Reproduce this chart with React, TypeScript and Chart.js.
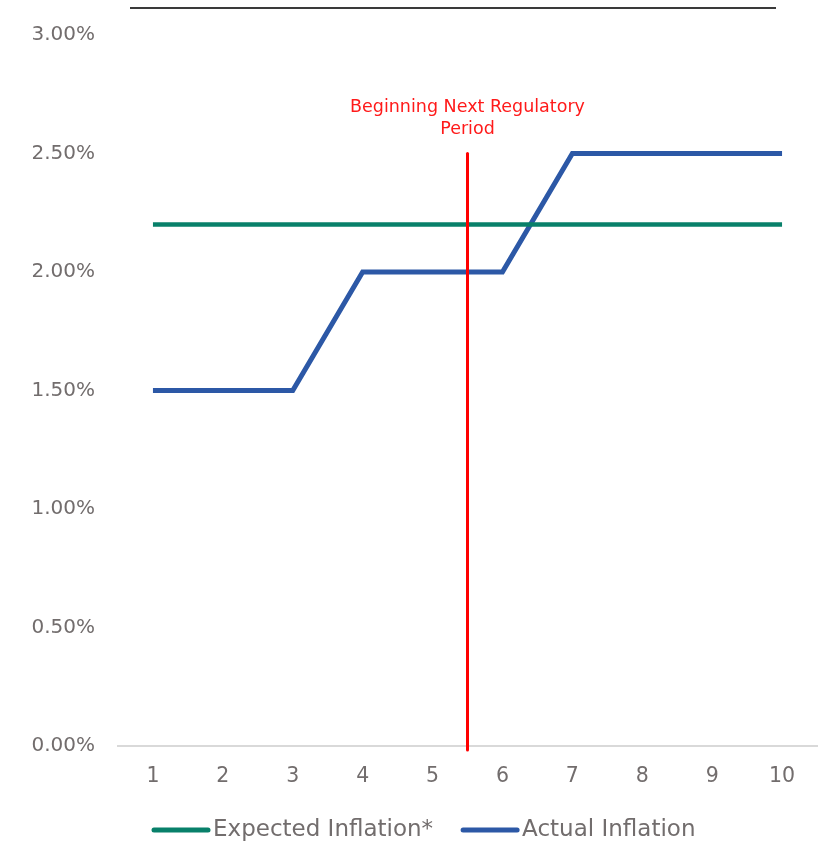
import React, { useEffect, useRef } from "react";
import { Chart, registerables } from "chart.js";

Chart.register(...registerables);

const categories = ["1", "2", "3", "4", "5", "6", "7", "8", "9", "10"];
const expectedInflation = [2.2, 2.2, 2.2, 2.2, 2.2, 2.2, 2.2, 2.2, 2.2, 2.2];
const actualInflation = [1.5, 1.5, 1.5, 2.0, 2.0, 2.0, 2.5, 2.5, 2.5, 2.5];
const seriesNames = ["Expected Inflation*", "Actual Inflation"];
const markerPosition = 4.5; // index between category 5 and 6
const markerTop = 2.5;
const markerLabel = ["Beginning Next Regulatory", "Period"];
const yMin = 0;
const yMax = 3;
const yStep = 0.5;

const GRAY = "#726d6d";
const FONT = "'DejaVu Sans', sans-serif";

const overlayPlugin = {
  id: "overlay",
  beforeDraw(chart: any) {
    const ctx = chart.ctx;
    ctx.save();
    ctx.fillStyle = "#ffffff";
    ctx.fillRect(0, 0, chart.width, chart.height);
    ctx.strokeStyle = "#3a3a3a";
    ctx.lineWidth = 2;
    ctx.beginPath();
    ctx.moveTo(130, 8);
    ctx.lineTo(776, 8);
    ctx.stroke();
    ctx.restore();
  },
  afterDatasetsDraw(chart: any) {
    const ctx = chart.ctx;
    const x = chart.scales.x.getPixelForValue(markerPosition);
    const yTop = chart.scales.y.getPixelForValue(markerTop);
    const yBot = chart.scales.y.getPixelForValue(yMin) + 4;
    ctx.save();
    ctx.strokeStyle = "#ff0000";
    ctx.lineWidth = 3;
    ctx.lineCap = "round";
    ctx.beginPath();
    ctx.moveTo(x, yTop);
    ctx.lineTo(x, yBot);
    ctx.stroke();
    ctx.fillStyle = "#ff1a1a";
    ctx.font = `17.5px ${FONT}`;
    ctx.textAlign = "center";
    ctx.textBaseline = "middle";
    ctx.fillText(markerLabel[0], x, 107);
    ctx.fillText(markerLabel[1], x, 129);
    ctx.restore();
  },
  afterDraw(chart: any) {
    const ctx = chart.ctx;
    ctx.save();
    ctx.font = `23px ${FONT}`;
    ctx.textBaseline = "middle";
    let x = 154;
    const y = 830;
    chart.data.datasets.forEach((ds: any) => {
      ctx.strokeStyle = ds.borderColor;
      ctx.lineWidth = 5;
      ctx.lineCap = "round";
      ctx.beginPath();
      ctx.moveTo(x, y);
      ctx.lineTo(x + 54, y);
      ctx.stroke();
      x += 59;
      ctx.fillStyle = GRAY;
      ctx.textAlign = "left";
      ctx.fillText(ds.label, x, y);
      x += ctx.measureText(ds.label).width + 30;
    });
    ctx.restore();
  },
};

export default function App() {
  const ref = useRef<HTMLCanvasElement>(null);
  useEffect(() => {
    if (!ref.current) return;
    const chart = new Chart(ref.current, {
      type: "line",
      data: {
        labels: categories,
        datasets: [
          {
            label: seriesNames[0],
            data: expectedInflation,
            borderColor: "#08806a",
            borderWidth: 4.5,
            pointRadius: 0,
            tension: 0,
          },
          {
            label: seriesNames[1],
            data: actualInflation,
            borderColor: "#2c58a6",
            borderWidth: 5,
            pointRadius: 0,
            tension: 0,
          },
        ],
      },
      options: {
        animation: false,
        responsive: false,
        layout: { padding: { top: 27, right: 1, left: 0, bottom: 0 } },
        plugins: { legend: { display: false }, tooltip: { enabled: false } },
        scales: {
          x: {
            offset: true,
            grid: { display: false, drawTicks: false },
            border: { display: true, color: "#d9d9d9", width: 2 },
            ticks: { color: GRAY, font: { family: FONT, size: 20.5 }, padding: 18 },
            afterFit: (s: any) => {
              s.height = 97;
            },
          },
          y: {
            min: yMin,
            max: yMax,
            grid: { display: false, drawTicks: false },
            border: { display: false },
            ticks: {
              stepSize: yStep,
              color: GRAY,
              font: { family: FONT, size: 20 },
              padding: 23,
              callback: (v: any) => Number(v).toFixed(2) + "%",
            },
            afterFit: (s: any) => {
              s.width = 118;
            },
          },
        },
      },
      plugins: [overlayPlugin],
    });
    return () => chart.destroy();
  }, []);
  return (
    <div style={{ position: "absolute", left: 0, top: 0, width: 818, height: 843 }}>
      <canvas ref={ref} width={818} height={843} style={{ width: 818, height: 843 }} />
    </div>
  );
}
